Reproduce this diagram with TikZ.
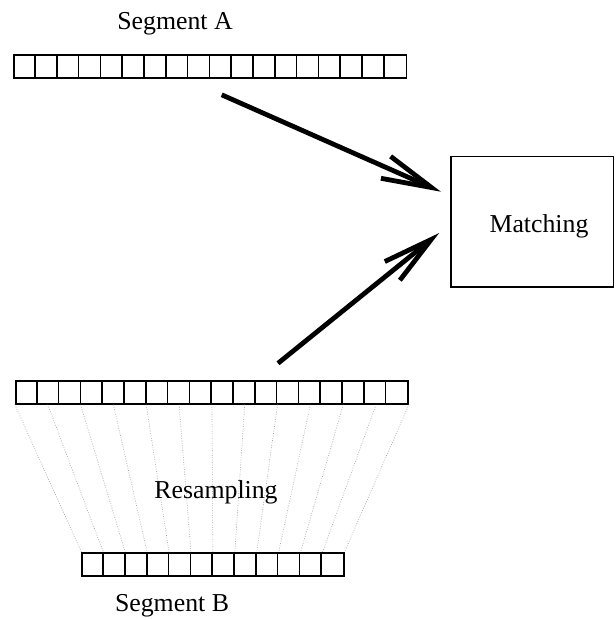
\documentclass[tikz,border=0pt]{standalone}
\usepackage{fontspec}
\setmainfont{Liberation Serif}
\usetikzlibrary{arrows.meta,calc}
\begin{document}
\begin{tikzpicture}[x=1pt,y=-1pt,
  lbl/.style={font=\fontsize{25.8}{30}\selectfont, anchor=base, inner sep=0pt},
  strip/.style={draw, line width=1.6pt, minimum height=23pt, inner sep=0pt, rectangle},
  cell/.style={line width=1.6pt},
  resamp/.style={gray!75, line width=0.6pt, dash pattern=on 0.8pt off 1.6pt},
  bigarrow/.style={line width=4.8pt, -{Straight Barb[length=50pt,width=24pt]}},
  box/.style={draw, line width=1.6pt, minimum width=162.8pt, minimum height=130pt, inner sep=0pt}]
\useasboundingbox (0,0) rectangle (615,620);
% strips
\node[strip, minimum width=392.4pt] (A) at (210.2,66.5) {};
\foreach \i in {1,...,17} \draw[cell] ($(A.north west)+(\i*21.8,0)$) -- ($(A.south west)+(\i*21.8,0)$);
\node[strip, minimum width=392.4pt] (C) at (211.9,392.3) {};
\foreach \i in {1,...,17} \draw[cell] ($(C.north west)+(\i*21.8,0)$) -- ($(C.south west)+(\i*21.8,0)$);
\node[strip, minimum width=261.6pt] (B) at (212.9,564.2) {};
\foreach \i in {1,...,11} \draw[cell] ($(B.north west)+(\i*21.8,0)$) -- ($(B.south west)+(\i*21.8,0)$);
% resampling lines
\foreach \k in {0,...,12} \draw[resamp] ($(C.south west)!\k/12!(C.south east)$) -- ($(B.north west)!\k/12!(B.north east)$);
% matching box
\node[box] (m) at (532.1,221.7) {};
\node[lbl] (mt) at (539,233) {Matching};
% arrows
\draw[bigarrow] ([xshift=11.5pt,yshift=-16pt]A.south) -- ([xshift=-9pt,yshift=30pt]m.west);
\draw[bigarrow] ([xshift=66.1pt,yshift=16.7pt]C.north) -- ([xshift=-10.7pt,yshift=-11.3pt]m.west);
% labels
\node[lbl] (la) at (175,30) {Segment A};
\node[lbl] (lr) at (216,498) {Resampling};
\node[lbl] (lb) at (172,611) {Segment B};
\end{tikzpicture}
\end{document}
